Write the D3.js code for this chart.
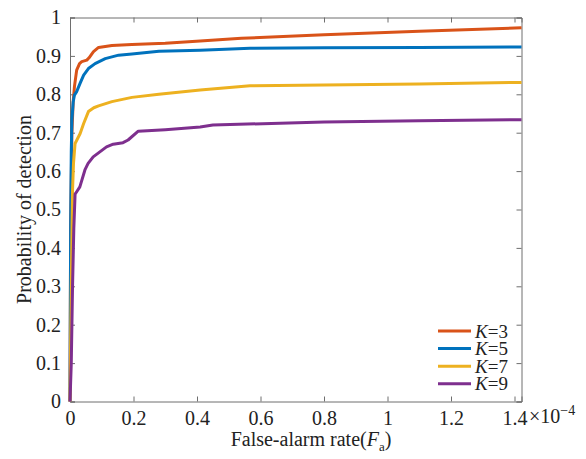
<!DOCTYPE html>
<html>
<head>
<meta charset="utf-8">
<script src="https://cdn.jsdelivr.net/npm/d3@7"></script>
<style>
  body { margin: 0; background: #fff; }
  svg text { font-family: "Liberation Serif", "Times New Roman", serif; fill: #222; }
</style>
</head>
<body>
<svg id="chart" width="586" height="459"></svg>
<script>
//Data (x in units of 1e-4)
var k3X = [0, 0.002, 0.006, 0.010, 0.014, 0.021, 0.030, 0.037, 0.053, 0.060, 0.074, 0.090, 0.132, 0.195, 0.30, 0.41, 0.54, 0.80, 1.10, 1.422];
var k3Y = [0, 0.45, 0.70, 0.78, 0.82, 0.863, 0.880, 0.885, 0.889, 0.895, 0.911, 0.922, 0.927, 0.930, 0.933, 0.939, 0.946, 0.955, 0.964, 0.973];

var k5X = [0, 0.002, 0.004, 0.006, 0.010, 0.014, 0.021, 0.032, 0.043, 0.058, 0.079, 0.111, 0.153, 0.195, 0.28, 0.41, 0.567, 0.80, 1.10, 1.422];
var k5Y = [0, 0.45, 0.65, 0.733, 0.78, 0.798, 0.807, 0.829, 0.850, 0.867, 0.880, 0.893, 0.902, 0.905, 0.912, 0.915, 0.920, 0.921, 0.922, 0.923];

var k7X = [0, 0.004, 0.008, 0.011, 0.016, 0.024, 0.032, 0.043, 0.058, 0.075, 0.090, 0.132, 0.195, 0.28, 0.41, 0.567, 0.80, 1.10, 1.422];
var k7Y = [0, 0.30, 0.55, 0.62, 0.672, 0.685, 0.698, 0.724, 0.755, 0.765, 0.770, 0.781, 0.792, 0.800, 0.811, 0.822, 0.824, 0.827, 0.831];

var k9X = [0, 0.004, 0.008, 0.012, 0.016, 0.020, 0.031, 0.047, 0.057, 0.073, 0.094, 0.115, 0.136, 0.167, 0.183, 0.215, 0.30, 0.41, 0.45, 0.80, 1.10, 1.422];
var k9Y = [0, 0.10, 0.30, 0.45, 0.54, 0.545, 0.559, 0.603, 0.620, 0.637, 0.650, 0.663, 0.670, 0.674, 0.681, 0.704, 0.708, 0.715, 0.720, 0.728, 0.731, 0.734];

var seriesNames = ['3', '5', '7', '9'];
var seriesColors = ['#D95319', '#0072BD', '#EDB120', '#7E2F8E'];
var xTicks = [0, 0.2, 0.4, 0.6, 0.8, 1, 1.2, 1.4];
var yTicks = [0, 0.1, 0.2, 0.3, 0.4, 0.5, 0.6, 0.7, 0.8, 0.9, 1];

var series = [[k3X, k3Y], [k5X, k5Y], [k7X, k7Y], [k9X, k9Y]];

var svg = d3.select('#chart');
var plotLeft = 70, plotRight = 521.5, plotTop = 17.5, plotBottom = 401.5;

var x = d3.scaleLinear().domain([0, 1.422]).range([plotLeft, plotRight]);
var y = d3.scaleLinear().domain([0, 1]).range([plotBottom, plotTop]);

var axisColor = '#6e6e6e';

//Axes (ticks pointing inward on all four sides)
svg.append('g')
  .attr('transform', 'translate(0,' + plotBottom + ')')
  .call(d3.axisBottom(x).tickValues(xTicks).tickSize(-5).tickPadding(9)
    .tickFormat(function(d) { return d3.format('~g')(d); }))
  .call(styleAxis);

svg.append('g')
  .attr('transform', 'translate(0,' + plotTop + ')')
  .call(d3.axisTop(x).tickValues(xTicks).tickSize(-5).tickFormat(''))
  .call(styleAxis);

svg.append('g')
  .attr('transform', 'translate(' + plotLeft + ',0)')
  .call(d3.axisLeft(y).tickValues(yTicks).tickSize(-5).tickPadding(9)
    .tickFormat(function(d) { return d3.format('~g')(d); }))
  .call(styleAxis);

svg.append('g')
  .attr('transform', 'translate(' + plotRight + ',0)')
  .call(d3.axisRight(y).tickValues(yTicks).tickSize(-5).tickFormat(''))
  .call(styleAxis);

function styleAxis(g) {
  g.select('.domain').attr('stroke', axisColor).attr('stroke-width', 1);
  g.selectAll('.tick line').attr('stroke', axisColor);
  g.selectAll('.tick text').attr('font-size', 20).attr('fill', '#222')
    .attr('font-family', '"Liberation Serif", "Times New Roman", serif');
}

//Curves
var line = d3.line()
  .x(function(d) { return x(d[0]); })
  .y(function(d) { return y(d[1]); });

series.forEach(function(s, i) {
  var pts = s[0].map(function(v, j) { return [v, s[1][j]]; });
  svg.append('path')
    .datum(pts)
    .attr('d', line)
    .attr('fill', 'none')
    .attr('stroke', seriesColors[i])
    .attr('stroke-width', 3)
    .attr('stroke-linejoin', 'round');
});

//Exponent label
var expo = svg.append('text').attr('x', 529).attr('y', 423).attr('font-size', 20);
expo.append('tspan').text('\u00d710');
expo.append('tspan').attr('dy', -8).attr('font-size', 14).text('\u22124');

//Axis labels
var xl = svg.append('text')
  .attr('x', 311).attr('y', 446)
  .attr('text-anchor', 'middle')
  .attr('font-size', 20);
xl.append('tspan').text('False-alarm rate(');
xl.append('tspan').attr('font-style', 'italic').text('F');
xl.append('tspan').attr('dy', 5).attr('font-size', 13).text('a');
xl.append('tspan').attr('dy', -5).text(')');

svg.append('text')
  .attr('transform', 'translate(31,' + ((plotTop + plotBottom) / 2) + ') rotate(-90)')
  .attr('text-anchor', 'middle')
  .attr('font-size', 20)
  .text('Probability of detection');

//Legend
var legend = svg.append('g');
seriesNames.forEach(function(name, i) {
  var ly = 331 + i * 17.6;
  legend.append('line')
    .attr('x1', 438).attr('x2', 471)
    .attr('y1', ly).attr('y2', ly)
    .attr('stroke', seriesColors[i]).attr('stroke-width', 3);
  var t = legend.append('text').attr('x', 475).attr('y', ly + 6.5).attr('font-size', 19);
  t.append('tspan').attr('font-style', 'italic').text('K');
  t.append('tspan').text('=' + name);
});
</script>
</body>
</html>
